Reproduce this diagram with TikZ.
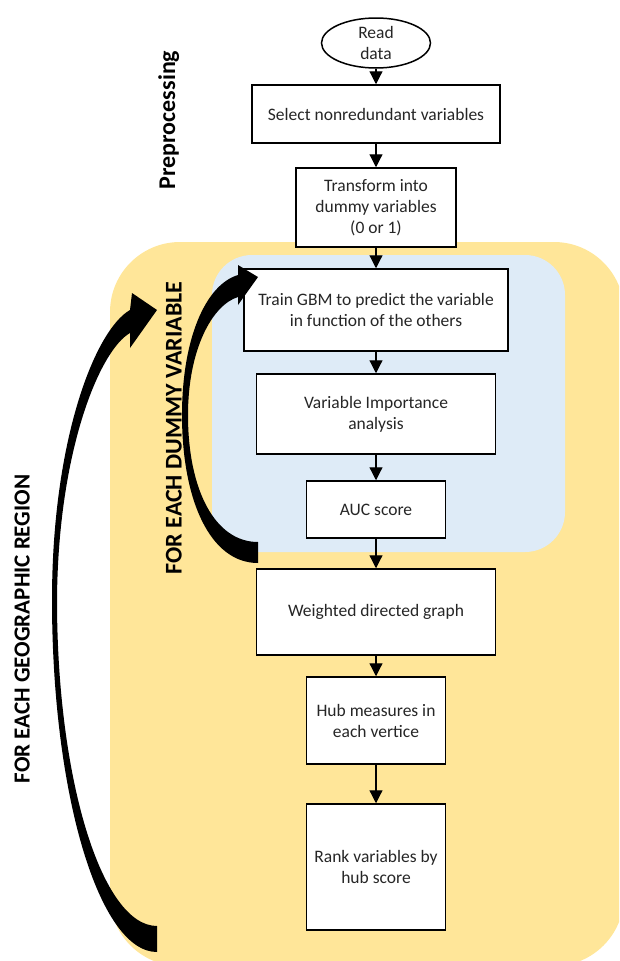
\documentclass[tikz,border=0pt]{standalone}
\usepackage{fontspec}
\setmainfont{Carlito}
\usetikzlibrary{arrows.meta,shapes.geometric}
\definecolor{yel}{HTML}{FFE699}
\definecolor{blu}{HTML}{DEEBF7}
\definecolor{txt}{HTML}{262626}
\begin{document}
\begin{tikzpicture}[x=1pt,y=-1pt,
  box/.style={draw=black,line width=1.5pt,fill=white,align=center,inner sep=2pt,
    text=txt,font=\fontsize{17.5}{21}\selectfont},
  flow/.style={line width=1.2pt,-{Triangle[length=13pt,width=13pt]}},
  side/.style={rotate=90,anchor=base,font=\bfseries\fontsize{24}{28}\selectfont},
  loop/.style={fill=black}]
\useasboundingbox (0,0) rectangle (619,961);
\clip (0,0) rectangle (619,961);
% background regions
\fill[yel,rounded corners=70pt] (110,242) rectangle (624,966);
\fill[blu,rounded corners=40pt] (212,255) rectangle (565,552);
% side labels
\node[side] (pre) at (175,120) {Preprocessing};
\node[side] (dum) at (181.5,428) {FOR EACH DUMMY VARIABLE};
\node[side,font=\bfseries\fontsize{23}{28}\selectfont] (geo) at (29.5,629) {FOR EACH GEOGRAPHIC REGION};
% flow nodes
\node[draw=black,line width=1.5pt,fill=white,ellipse,minimum width=109pt,minimum height=50pt,inner sep=0pt,
  label={[align=center,text=txt,font=\fontsize{17.5}{21.5}\selectfont]center:Read\\data}] (read) at (376,43) {};
\node[box,minimum width=248pt,minimum height=58pt] (sel) at (376,114) {Select nonredundant variables};
\node[box,minimum width=160pt,minimum height=79pt] (trans) at (376,207.5) {Transform into\\dummy variables\\(0 or 1)};
\node[box,minimum width=264pt,minimum height=82pt] (train) at (376,310) {Train GBM to predict the variable\\in function of the others};
\node[box,minimum width=239pt,minimum height=80pt] (vi) at (376,414) {Variable Importance\\analysis};
\node[box,minimum width=139pt,minimum height=57pt] (auc) at (376,509.5) {AUC score};
\node[box,minimum width=239pt,minimum height=86pt] (wdg) at (376,612) {Weighted directed graph};
\node[box,minimum width=139pt,minimum height=87pt] (hub) at (376,720.5) {Hub measures in\\each vertice};
\node[box,minimum width=139pt,minimum height=126pt] (rank) at (376,867) {Rank variables by\\hub score};
% connectors
\draw[flow] (read) -- (sel);
\draw[flow] (sel) -- (trans);
\draw[flow] (trans) -- (train);
\draw[flow] (train) -- (vi);
\draw[flow] (vi) -- (auc);
\draw[flow] (auc) -- (wdg);
\draw[flow] (wdg) -- (hub);
\draw[flow] (hub) -- (rank);
% outer loop arrow (each geographic region)
\fill[loop] (157,952) .. controls (99,952) and (52,794) .. (52,600)
  .. controls (52,440) and (95,330) .. (130,310)
  -- (132,293) -- (157,310) -- (130,348) -- (130,333)
  .. controls (100,350) and (58,450) .. (57,600)
  .. controls (57,780) and (102,926) .. (157,926) -- cycle;
% inner loop arrow (each dummy variable)
\fill[loop] (258,563) .. controls (210,563) and (182,500) .. (182,415)
  .. controls (182,340) and (205,285) .. (238,275)
  -- (238,265) -- (258,277) -- (238,305) -- (238,297)
  .. controls (212,305) and (188,350) .. (188,415)
  .. controls (188,490) and (215,542) .. (258,542) -- cycle;
\end{tikzpicture}
\end{document}
